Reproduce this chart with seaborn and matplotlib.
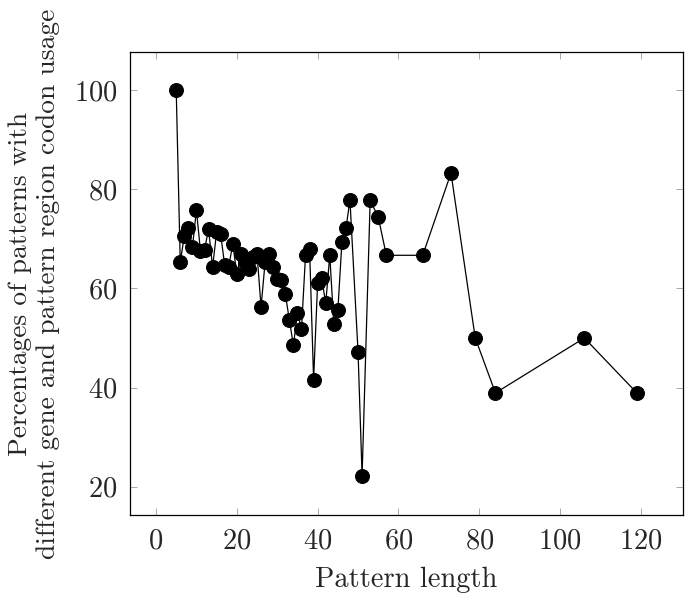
import matplotlib
import numpy as np
import pandas as pd
import seaborn as sns
matplotlib.use("Agg")
import matplotlib.pyplot as plt

pattern_length = [5, 6, 7, 8, 9, 10, 11, 12, 13, 14, 15, 16, 17, 18, 19, 20,
                  21, 22, 23, 24, 25, 26, 27, 28, 29, 30, 31, 32, 33, 34, 35,
                  36, 37, 38, 39, 40, 41, 42, 43, 44, 45, 46, 47, 48, 50, 51,
                  53, 55, 57, 66, 73, 79, 84, 106, 119]
percent_diff = [100.0, 65.3, 70.6, 72.2, 68.3, 75.8, 67.6, 67.8, 72.0, 64.3,
                71.4, 70.9, 64.7, 64.4, 69.0, 62.9, 66.9, 65.3, 63.9, 66.3,
                66.9, 56.3, 65.3, 67.0, 64.3, 61.9, 61.8, 58.8, 53.7, 48.5,
                55.1, 51.8, 66.7, 68.0, 41.6, 61.2, 62.1, 57.0, 66.7, 52.8,
                55.6, 69.3, 72.2, 77.8, 47.1, 22.2, 77.8, 74.4, 66.7, 66.7,
                83.3, 50.0, 38.9, 50.0, 38.9]

df = pd.DataFrame({"length": pattern_length, "pct": percent_diff})

sns.set_theme(style="ticks")
plt.rcParams["font.family"] = "serif"
plt.rcParams["font.serif"] = ["cmr10", "DejaVu Serif"]
plt.rcParams["axes.formatter.use_mathtext"] = True
plt.rcParams["mathtext.fontset"] = "cm"

fig = plt.figure(figsize=(6.85, 5.95), dpi=100)
ax = fig.add_axes([0.190, 0.134, 0.807, 0.779])

sns.lineplot(data=df, x="length", y="pct", ax=ax, color="black", linewidth=0.9,
             marker="o", markersize=10, markeredgecolor="black",
             markerfacecolor="black", estimator=None, sort=False)

ax.set_xlim(-6.4, 130.4)
ax.set_ylim(14.2, 107.8)
ax.set_xticks([0, 20, 40, 60, 80, 100, 120])
ax.set_yticks([20, 40, 60, 80, 100])
ax.tick_params(direction="in", top=True, right=True, length=5, width=0.6,
               color="#999999", labelsize=20.5, pad=9)
for side in ax.spines.values():
    side.set_linewidth(0.9)
    side.set_color("black")

ax.set_xlabel("Pattern length", fontsize=20.5, labelpad=9)
ax.set_ylabel("Percentages of patterns with\ndifferent gene and pattern region codon usage",
              fontsize=19.8, labelpad=10, linespacing=1.25)

plt.savefig("out.png", dpi=100)
